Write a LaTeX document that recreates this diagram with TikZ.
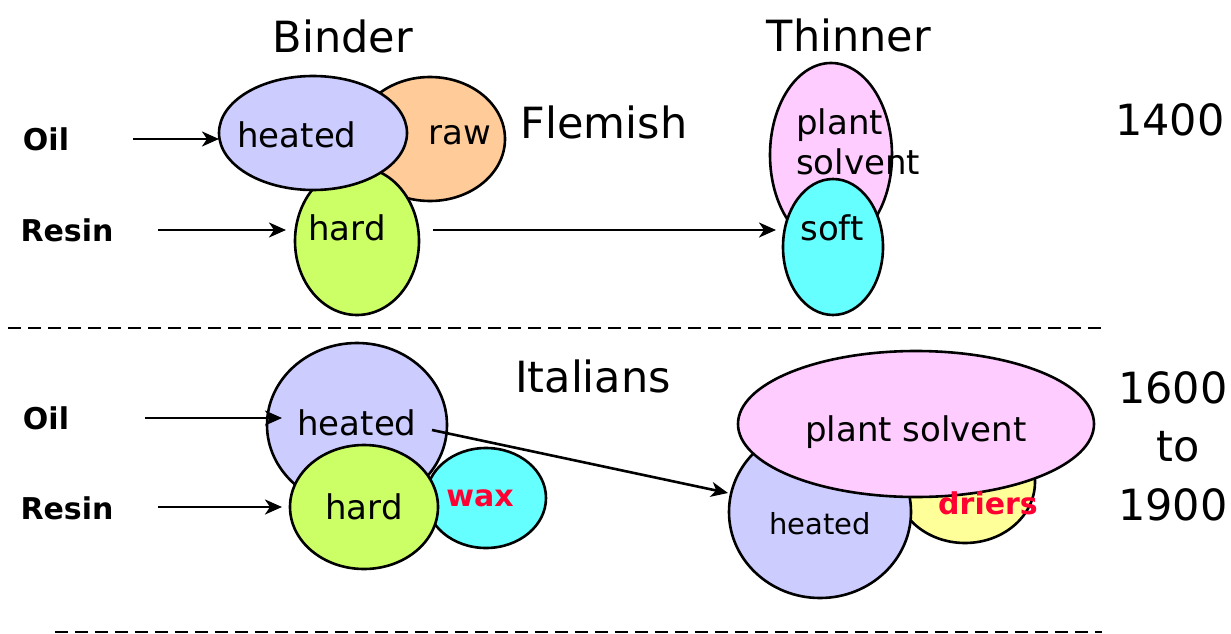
\documentclass[tikz,border=0pt]{standalone}
\usepackage{fontspec}
\setmainfont{DejaVu Sans}
\usetikzlibrary{shapes.geometric,arrows.meta}
\definecolor{cHeat}{HTML}{CCCCFF}
\definecolor{cRaw}{HTML}{FFCC99}
\definecolor{cHard}{HTML}{CCFF66}
\definecolor{cPink}{HTML}{FFCCFF}
\definecolor{cCyan}{HTML}{66FFFF}
\definecolor{cYel}{HTML}{FFFF99}
\definecolor{cRed}{HTML}{FF0033}
\begin{document}
\begin{tikzpicture}[x=1pt,y=-1pt,
  blob/.style={ellipse, draw=black, line width=2.6pt, inner sep=0pt},
  title/.style={font=\fontsize{43}{46}\selectfont, inner sep=0pt},
  lab/.style={font=\fontsize{34}{40}\selectfont, inner sep=0pt},
  smlab/.style={font=\fontsize{29}{34}\selectfont, inner sep=0pt},
  side/.style={font=\bfseries\fontsize{30}{36}\selectfont, inner sep=0pt},
  redlab/.style={font=\bfseries\fontsize{30}{36}\selectfont, text=cRed, inner sep=0pt},
  arr/.style={-{Stealth[length=17pt,width=15pt,inset=5pt]}, line width=2.6pt},
  sepline/.style={dash pattern=on 13pt off 7pt, line width=2.4pt}]
\useasboundingbox (0,0) rectangle (1231,634);
% ---------- top section ----------
\node[title] (binder) at (343,36) {Binder};
\node[title] (thinner) at (849,35) {Thinner};
\node[title] (flemish) at (604,122) {Flemish};
\node[title] (y1400) at (1170,120) {1400};
\node[side] (oil1) at (46,139) {Oil};
\node[side] (resin1) at (67,230) {Resin};
\node[blob, fill=cRaw, minimum width=150, minimum height=124] (raw1) at (430,139) {};
\node[blob, fill=cHard, minimum width=124, minimum height=148] (hard1) at (357,241) {};
\node[blob, fill=cHeat, minimum width=188, minimum height=114] (heat1) at (313,133) {};
\node[lab] (heat1t) at (297,135) {heated};
\node[lab] (raw1t) at (460,135) {raw};
\node[lab] (hard1t) at (347,228) {hard};
\node[blob, fill=cPink, minimum width=122, minimum height=184] (pink1) at (831,155) {};
\node[blob, fill=cCyan, minimum width=100, minimum height=136] (soft1) at (833,247) {};
\node[lab, align=left, anchor=west] (pink1t) at (796,142) {plant\\solvent};
\node[lab] (soft1t) at (832,228) {soft};
\coordinate (a1s) at (133,139);
\coordinate (a1e) at (219,139);
\coordinate (a2s) at (158,230);
\coordinate (a2e) at (286,230);
\coordinate (a3s) at (433,230);
\coordinate (a3e) at (776,230);
\draw[arr] (a1s) -- (a1e);
\draw[arr] (a2s) -- (a2e);
\draw[arr] (a3s) -- (a3e);
\coordinate (d1s) at (8,328);
\coordinate (d1e) at (1106,328);
\draw[sepline] (d1s) -- (d1e);
% ---------- bottom section ----------
\node[title] (italians) at (593,376) {Italians};
\node[title] (y1600) at (1173,388) {1600};
\node[title] (yto) at (1178,447) {to};
\node[title] (y1900) at (1173,505) {1900};
\node[side] (oil2) at (46,418) {Oil};
\node[side] (resin2) at (67,508) {Resin};
\node[blob, fill=cHeat, minimum width=180, minimum height=164] (heat2) at (357,425) {};
\node[blob, fill=cCyan, minimum width=120, minimum height=100] (wax2) at (486,498) {};
\node[blob, fill=cHard, minimum width=148, minimum height=124] (hard2) at (364,507) {};
\node[lab] (heat2t) at (357,423) {heated};
\node[lab] (hard2t) at (364,507) {hard};
\node[redlab] (wax2t) at (480,498) {wax};
\node[blob, fill=cYel, minimum width=140, minimum height=122] (yel3) at (965,482) {};
\node[blob, fill=cHeat, minimum width=182, minimum height=172] (heat3) at (820,512) {};
\node[blob, fill=cPink, minimum width=356, minimum height=146] (pink3) at (916,424) {};
\node[lab] (pink3t) at (916,432) {plant solvent};
\node[smlab] (heat3t) at (820,524) {heated};
\node[redlab] (driers3t) at (988,503) {driers};
\coordinate (b1s) at (145,418);
\coordinate (b1e) at (282,418);
\coordinate (b2s) at (158,507);
\coordinate (b2e) at (282,507);
\coordinate (b3s) at (432,430);
\coordinate (b3e) at (728,493);
\draw[arr] (b1s) -- (b1e);
\draw[arr] (b2s) -- (b2e);
\draw[arr] (b3s) -- (b3e);
\coordinate (d2s) at (55,632);
\coordinate (d2e) at (1102,632);
\draw[sepline] (d2s) -- (d2e);
\end{tikzpicture}
\end{document}
